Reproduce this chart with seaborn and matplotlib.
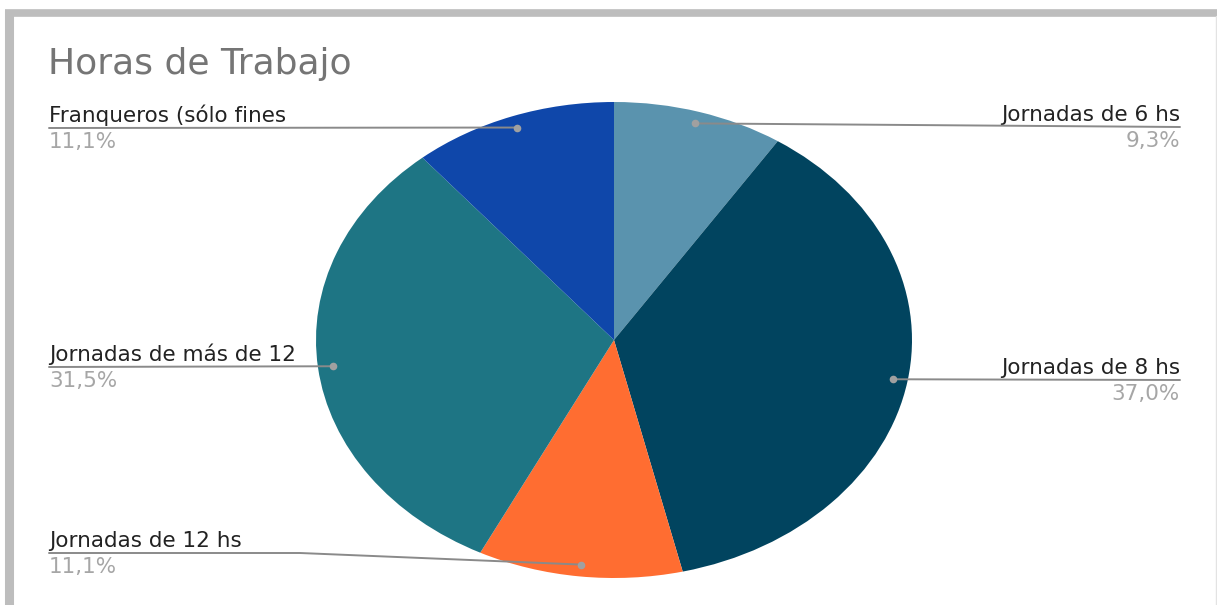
import numpy as np
import matplotlib
matplotlib.use("Agg")
import matplotlib.pyplot as plt
import seaborn as sns

# Data: working-hours categories (clockwise from the top) and respondent counts
categories = ["Jornadas de 6 hs", "Jornadas de 8 hs", "Jornadas de 12 hs",
              "Jornadas de más de 12", "Franqueros (sólo fines"]
counts = [5, 20, 6, 17, 6]
pct_labels = ["9,3%", "37,0%", "11,1%", "31,5%", "11,1%"]
colors = ["#5a93ae", "#01445f", "#ff6d31", "#1e7584", "#0f47aa"]
title = "Horas de Trabajo"

sns.set_theme(style="white")
plt.rcParams["font.family"] = ["DejaVu Sans"]

W, H = 1217, 605
fig = plt.figure(figsize=(W / 100, H / 100), dpi=100)
fig.patch.set_facecolor("white")

# Pie axes sized to the elliptical plot area
cx, cy, rx, ry = 614, 340, 298, 238
ax = fig.add_axes([(cx - rx) / W, (H - cy - ry) / H, 2 * rx / W, 2 * ry / H])
ax.pie(counts, colors=colors, startangle=90, counterclock=False, radius=1,
       wedgeprops=dict(linewidth=0))
ax.set_xlim(-1, 1)
ax.set_ylim(-1, 1)
ax.set_aspect("auto")
ax.axis("off")

# Overlay axes in pixel coordinates for frame, title and labels (on top)
ov = fig.add_axes([0, 0, 1, 1], zorder=5)
ov.set_xlim(0, W)
ov.set_ylim(H, 0)
ov.patch.set_alpha(0)
ov.axis("off")

# Outer frame
ov.plot([5, W], [13, 13], color="#bdbdbd", lw=5.5, solid_capstyle="butt")
ov.plot([8.5, 8.5], [10, H], color="#bdbdbd", lw=6.5, solid_capstyle="butt")
ov.plot([W - 1, W - 1], [16, H], color="#e3e3e3", lw=1)

ov.text(48, 74, title, fontsize=26, color="#757575", va="baseline", ha="left")

# Label layout: side, label line y, optional elbow x
layout = [
    ("right", 127, None),
    ("right", 380, None),
    ("left", 553, 300),
    ("left", 367, None),
    ("left", 128, None),
]

to_px = lambda pt: ov.transData.inverted().transform(ax.transData.transform(pt))
total = float(sum(counts))
cum = np.cumsum([0] + counts)
for i, (cat, pct) in enumerate(zip(categories, pct_labels)):
    mid = (cum[i] + counts[i] / 2) / total * 2 * np.pi
    dx, dy = to_px((0.95 * np.sin(mid), 0.95 * np.cos(mid)))
    side, ly, elbow = layout[i]
    if side == "right":
        end_x = 1180
        xs, ys = [dx, end_x], [dy, ly]
        ha = "right"
    else:
        end_x = 49
        if elbow is not None:
            xs, ys = [dx, elbow, end_x], [dy, ly, ly]
        else:
            xs, ys = [dx, end_x], [dy, ly]
        ha = "left"
    ov.plot(xs, ys, color="#8a8a8a", lw=1.4, zorder=5)
    ov.plot([dx], [dy], "o", color="#a0a0a0", ms=5.5, mec="none", zorder=6)
    ov.text(end_x, ly - 6, cat, fontsize=15.5, color="#222222", ha=ha, va="baseline")
    ov.text(end_x, ly + 20, pct, fontsize=15.5, color="#a6a6a6", ha=ha, va="baseline")

fig.savefig("out.png", dpi=100, facecolor="white")
